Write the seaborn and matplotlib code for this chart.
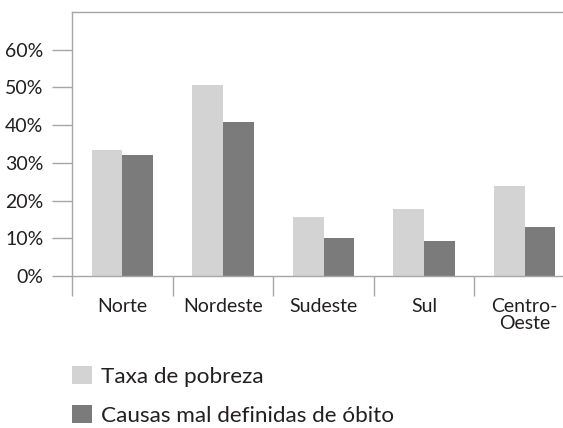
import matplotlib
matplotlib.use("Agg")
import matplotlib.pyplot as plt
import seaborn as sns
import pandas as pd

# Regional indicators (%)
regions = ["Norte", "Nordeste", "Sudeste", "Sul", "Centro-\nOeste"]
poverty_rate = [33.3, 50.6, 15.6, 17.7, 23.8]
ill_defined_deaths = [32.0, 40.8, 10.0, 9.2, 12.9]
series_names = ["Taxa de pobreza", "Causas mal definidas de óbito"]
y_ticks = [0, 10, 20, 30, 40, 50, 60]
y_tick_labels = [f"{v}%" for v in y_ticks]

light_gray = "#d3d3d3"
dark_gray = "#7b7b7b"
axis_gray = "#a6a6a6"
text_color = "#231f20"

df = pd.DataFrame({
    "Região": regions * 2,
    "Valor": poverty_rate + ill_defined_deaths,
    "Série": [series_names[0]] * len(regions) + [series_names[1]] * len(regions),
})

sns.set_style("white")
plt.rcParams["font.family"] = ["Lato", "DejaVu Sans"]

fig = plt.figure(figsize=(5.63, 4.28), dpi=100)
W, H = 563, 428
ax = fig.add_axes([72 / W, (H - 276) / H, (W - 72) / W, (276 - 12) / H])

sns.barplot(data=df, x="Região", y="Valor", hue="Série", order=regions,
            hue_order=series_names, palette=[light_gray, dark_gray],
            width=0.61, gap=0, saturation=1, linewidth=0, ax=ax, legend=True)

ax.set_xlim(-0.5, 4.38)
ax.set_ylim(0, 70)
ax.set_xlabel("")
ax.set_ylabel("")

# Spines: left and top lines in gray, bottom baseline at zero
for side in ["left", "top", "bottom"]:
    ax.spines[side].set_color(axis_gray)
    ax.spines[side].set_linewidth(1.0)
ax.spines["right"].set_visible(False)

ax.set_yticks(y_ticks, labels=y_tick_labels)
ax.tick_params(axis="y", direction="out", length=14.5, width=1.0, color=axis_gray,
               labelsize=14, labelcolor=text_color, pad=6, left=True)

# Category labels centred under each group, separators between groups
ax.set_xticks(range(len(regions)), labels=regions)
ax.set_xticks([i - 0.5 for i in range(len(regions))], minor=True)
ax.tick_params(axis="x", which="major", length=0, labelsize=14,
               labelcolor=text_color, pad=16)
ax.tick_params(axis="x", which="minor", direction="out", length=14.5, width=1.0,
               color=axis_gray, bottom=True)
for lab in ax.get_xticklabels():
    lab.set_linespacing(1.0)

handles, labels = ax.get_legend_handles_labels()
ax.get_legend().remove()
fig.legend(handles, labels, loc="upper left", bbox_to_anchor=(72 / W, 1 - 366 / H),
           frameon=False, fontsize=16.2, handlelength=0.89, handleheight=0.85,
           handletextpad=0.4, labelspacing=0.8, labelcolor=text_color,
           borderaxespad=0, borderpad=0)

fig.savefig("out.png", dpi=100)
